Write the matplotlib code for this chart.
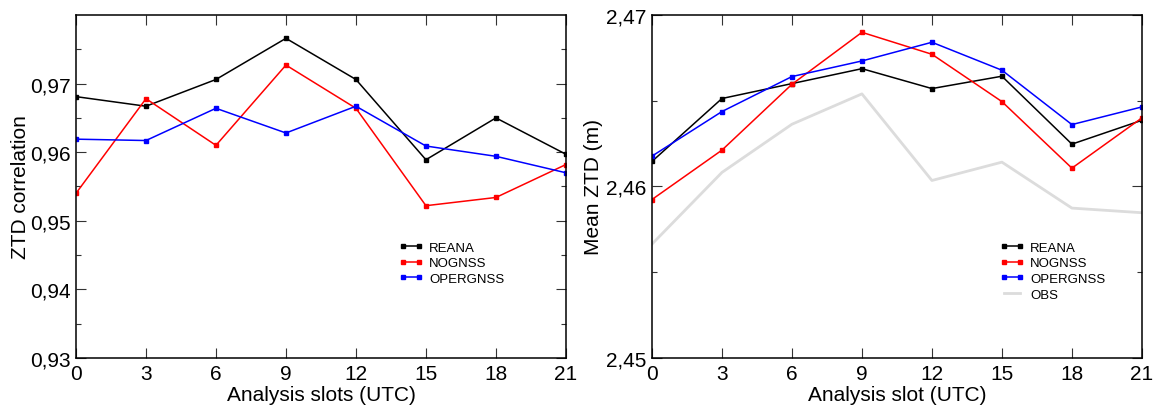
import matplotlib
matplotlib.use("Agg")
import matplotlib.pyplot as plt
from matplotlib.ticker import FuncFormatter, FixedLocator

plt.rcParams["font.family"] = ["Liberation Sans", "DejaVu Sans"]

slots = [0, 3, 6, 9, 12, 15, 18, 21]

# ZTD correlation per analysis slot
corr_reana = [0.9681, 0.9667, 0.9706, 0.9766, 0.9706, 0.9589, 0.9650, 0.9597]
corr_nognss = [0.9540, 0.9678, 0.9610, 0.9727, 0.9664, 0.9522, 0.9534, 0.9582]
corr_opergnss = [0.9619, 0.9617, 0.9664, 0.9628, 0.9667, 0.9609, 0.9594, 0.9570]

# Mean ZTD (m) per analysis slot
ztd_reana = [2.46146, 2.46513, 2.46600, 2.46687, 2.46571, 2.46643, 2.46247, 2.46386]
ztd_nognss = [2.45924, 2.46212, 2.46596, 2.46899, 2.46771, 2.46495, 2.46107, 2.46400]
ztd_opergnss = [2.46177, 2.46437, 2.46641, 2.46732, 2.46841, 2.46678, 2.46361, 2.46464]
ztd_obs = [2.45664, 2.46082, 2.46363, 2.46540, 2.46035, 2.46142, 2.45874, 2.45847]

comma = FuncFormatter(lambda v, p: f"{v:.2f}".replace(".", ","))


def style_axes(ax, xlabel, ylabel, ymin, ymax, majors, minors, ylabelpad):
    ax.set_xlim(0, 21)
    ax.set_ylim(ymin, ymax)
    ax.set_xticks(slots)
    ax.yaxis.set_major_locator(FixedLocator(majors))
    ax.yaxis.set_minor_locator(FixedLocator(minors))
    ax.yaxis.set_major_formatter(comma)
    ax.tick_params(which="both", direction="in", top=True, right=True,
                   labelsize=15, width=0.8, color="#333333")
    ax.tick_params(which="major", length=7.2)
    ax.tick_params(which="minor", length=3.6)
    ax.tick_params(axis="y", pad=4)
    ax.tick_params(axis="x", pad=4)
    ax.set_xlabel(xlabel, fontsize=15, labelpad=1.5)
    ax.set_ylabel(ylabel, fontsize=15, labelpad=ylabelpad)
    for s in ax.spines.values():
        s.set_linewidth(1.1)


def add_legend(ax, x_anchor):
    ax.legend(loc="upper left", bbox_to_anchor=(x_anchor, 0.339), frameon=False,
              fontsize=9.5, numpoints=2, handlelength=1.8, handletextpad=0.5,
              labelspacing=0.25, borderaxespad=0, borderpad=0)


fig = plt.figure(figsize=(11.58, 4.06), dpi=100)
ax1 = fig.add_axes([0.0656, 0.1158, 0.4231, 0.8448])
ax2 = fig.add_axes([0.5630, 0.1158, 0.4231, 0.8448])

mk = dict(marker="s", markersize=3.5, linewidth=1.1)

ax1.plot(slots, corr_reana, color="black", label="REANA", **mk)
ax1.plot(slots, corr_nognss, color="red", label="NOGNSS", **mk)
ax1.plot(slots, corr_opergnss, color="blue", label="OPERGNSS", **mk)
style_axes(ax1, "Analysis slots (UTC)", "ZTD correlation", 0.93, 0.98,
           [0.93, 0.94, 0.95, 0.96, 0.97],
           [0.935, 0.945, 0.955, 0.965, 0.975], 0)
add_legend(ax1, 0.659)

ax2.plot(slots, ztd_reana, color="black", label="REANA", **mk)
ax2.plot(slots, ztd_nognss, color="red", label="NOGNSS", **mk)
ax2.plot(slots, ztd_opergnss, color="blue", label="OPERGNSS", **mk)
ax2.plot(slots, ztd_obs, color="#dcdcdc", linewidth=2, label="OBS")
style_axes(ax2, "Analysis slot (UTC)", "Mean ZTD (m)", 2.45, 2.47,
           [2.45, 2.46, 2.47], [2.455, 2.465], 2)
add_legend(ax2, 0.710)

fig.savefig("out.png", dpi=100)
